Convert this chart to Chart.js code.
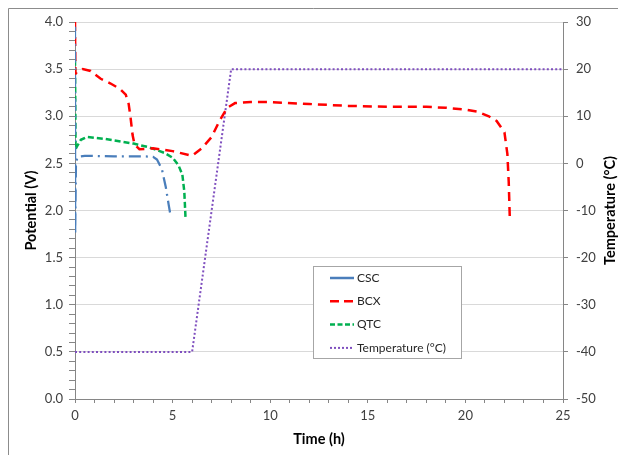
<!DOCTYPE html>
<html>
<head>
<meta charset="utf-8">
<script src="https://cdn.jsdelivr.net/npm/chart.js@4/dist/chart.umd.min.js"></script>
<style>
  html, body { margin: 0; padding: 0; background: #fff; }
  #wrap { width: 618px; height: 455px; position: relative; }
</style>
</head>
<body>
<div id="wrap"><canvas id="c" width="618" height="455"></canvas></div>
<script>
// ---- Data ----
const seriesNames = ["CSC", "BCX", "QTC", "Temperature (°C)"];

const cscTime    = [0, 0.01, 0.05, 0.15, 0.5, 2.0, 3.5, 4.0, 4.2, 4.45, 4.65, 4.8, 4.9];
const cscVoltage = [3.95, 1.75, 2.52, 2.57, 2.58, 2.575, 2.575, 2.57, 2.54, 2.44, 2.25, 2.06, 1.94];

const bcxTime    = [0, 0.02, 0.1, 0.4, 0.8, 1.3, 1.8, 2.3, 2.6, 2.75, 2.85, 2.95, 3.05, 3.3, 4.0, 5.0, 6.0, 6.5, 7.0, 7.4, 7.8, 8.2, 9.0, 10.0, 12.0, 14.0, 16.0, 18.0, 19.0, 20.0, 20.6, 21.2, 21.6, 22.0, 22.15, 22.22, 22.28];
const bcxVoltage = [4.0, 3.45, 3.47, 3.50, 3.48, 3.40, 3.35, 3.29, 3.23, 3.13, 2.98, 2.80, 2.70, 2.65, 2.66, 2.63, 2.58, 2.66, 2.78, 2.95, 3.09, 3.14, 3.15, 3.15, 3.13, 3.11, 3.10, 3.10, 3.09, 3.07, 3.05, 3.00, 2.95, 2.83, 2.60, 2.30, 1.88];

const qtcTime    = [0, 0.03, 0.1, 0.3, 0.6, 1.5, 3.0, 3.8, 4.6, 5.0, 5.3, 5.5, 5.6, 5.66];
const qtcVoltage = [3.6, 2.65, 2.68, 2.75, 2.78, 2.76, 2.71, 2.67, 2.61, 2.56, 2.48, 2.38, 2.20, 1.93];

const tempTime  = [0, 6.0, 8.0, 25];
const tempValue = [-40, -40, 20, 20];

const timeTicks = [0, 5, 10, 15, 20, 25];
const potentialTicks = [0.0, 0.5, 1.0, 1.5, 2.0, 2.5, 3.0, 3.5, 4.0];
const temperatureTicks = [-50, -40, -30, -20, -10, 0, 10, 20, 30];

// ---- helpers ----
function pts(xs, ys) { return xs.map((x, i) => ({ x: x, y: ys[i] })); }
const isMajor = (v, step) => Math.abs(v / step - Math.round(v / step)) < 1e-6;

const FONT = "Lato, 'Liberation Sans', sans-serif";
const AXIS_GRAY = '#868686';
const GRID_GRAY = '#D9D9D9';
const TICK_TEXT = '#404040';
const TITLE_SIZE = 14.5;

const legendStyles = [
  { color: '#4A7EBB', dash: [] },
  { color: '#FF0000', dash: [9, 5] },
  { color: '#00B050', dash: [5, 2.5] },
  { color: '#7F4FBF', dash: [2, 2] }
];

const frameAndLegend = {
  id: 'frameAndLegend',
  beforeDraw(chart) {
    const ctx = chart.ctx;
    ctx.save();
    ctx.fillStyle = '#fff';
    ctx.fillRect(0, 0, chart.width, chart.height);
    ctx.strokeStyle = '#8c8c8c';
    ctx.lineWidth = 1;
    ctx.beginPath();
    ctx.moveTo(8.5, chart.height);
    ctx.lineTo(8.5, 8.5);
    ctx.lineTo(chart.width, 8.5);
    ctx.stroke();
    ctx.restore();
  },
  afterDraw(chart) {
    const ctx = chart.ctx;
    ctx.save();
    // right axis title, reading bottom-to-top as in the reference
    const s2 = chart.scales.y2;
    ctx.translate(s2.right - 8, (s2.top + s2.bottom) / 2);
    ctx.rotate(-Math.PI / 2);
    ctx.font = "bold " + TITLE_SIZE + "px " + FONT;
    ctx.fillStyle = '#000';
    ctx.textAlign = 'center';
    ctx.textBaseline = 'middle';
    ctx.fillText('Temperature (°C)', 0, 0);
    ctx.restore();

    ctx.save();
    const bx = 313.5, by = 266.5, bw = 148, bh = 92;
    ctx.fillStyle = '#fff';
    ctx.fillRect(bx, by, bw, bh);
    ctx.strokeStyle = '#A6A6A6';
    ctx.lineWidth = 1;
    ctx.strokeRect(bx, by, bw, bh);
    ctx.font = "12px " + FONT;
    ctx.textBaseline = 'middle';
    ctx.textAlign = 'left';
    seriesNames.forEach((name, i) => {
      const y = 278 + i * 23.3;
      const st = legendStyles[i];
      ctx.strokeStyle = st.color;
      ctx.lineWidth = i === 3 ? 2 : 2.5;
      ctx.setLineDash(st.dash);
      ctx.beginPath();
      ctx.moveTo(330, y);
      ctx.lineTo(354, y);
      ctx.stroke();
      ctx.setLineDash([]);
      ctx.fillStyle = '#262626';
      ctx.fillText(name, 357, y);
    });
    ctx.restore();
  }
};

new Chart(document.getElementById('c'), {
  type: 'scatter',
  data: {
    datasets: [
      { label: seriesNames[0], data: pts(cscTime, cscVoltage), yAxisID: 'y',
        showLine: true, borderColor: '#4A7EBB', borderWidth: 2.25, borderDash: [12, 5, 2, 5],
        pointRadius: 0, tension: 0, fill: false },
      { label: seriesNames[1], data: pts(bcxTime, bcxVoltage), yAxisID: 'y',
        showLine: true, borderColor: '#FF0000', borderWidth: 2.5, borderDash: [9, 6],
        pointRadius: 0, tension: 0, fill: false },
      { label: seriesNames[2], data: pts(qtcTime, qtcVoltage), yAxisID: 'y',
        showLine: true, borderColor: '#00B050', borderWidth: 2.5, borderDash: [6, 3],
        pointRadius: 0, tension: 0, fill: false },
      { label: seriesNames[3], data: pts(tempTime, tempValue), yAxisID: 'y2',
        showLine: true, borderColor: '#7F4FBF', borderWidth: 2, borderDash: [2, 2.2],
        pointRadius: 0, tension: 0, fill: false }
    ]
  },
  options: {
    responsive: false,
    animation: false,
    devicePixelRatio: 1,
    layout: { padding: { left: 19, top: 22, right: 0, bottom: 0 } },
    plugins: { legend: { display: false }, tooltip: { enabled: false } },
    scales: {
      x: {
        type: 'linear', min: 0, max: 25,
        ticks: { stepSize: 1, autoSkip: false, maxRotation: 0, padding: 5,
          color: TICK_TEXT, font: { family: FONT, size: 13 },
          callback: (v) => timeTicks.includes(Math.round(v * 1000) / 1000) && isMajor(v, 5) ? String(Math.round(v)) : '' },
        grid: { drawOnChartArea: false, tickLength: 4, tickColor: AXIS_GRAY },
        border: { color: AXIS_GRAY, width: 1 },
        title: { display: true, text: 'Time (h)', color: '#000',
          font: { family: FONT, size: TITLE_SIZE, weight: 'bold' }, padding: { top: 0, bottom: 7 } },
        afterFit: (s) => { s.height = 56; }
      },
      y: {
        type: 'linear', position: 'left', min: 0, max: 4,
        ticks: { stepSize: 0.1, autoSkip: false, padding: 6,
          color: TICK_TEXT, font: { family: FONT, size: 13 },
          callback: (v) => isMajor(v, 0.5) ? v.toFixed(1) : '' },
        grid: {
          tickLength: 6,
          color: (c) => (c.tick && isMajor(c.tick.value, 0.5)) ? GRID_GRAY : 'rgba(0,0,0,0)',
          tickColor: AXIS_GRAY
        },
        border: { color: AXIS_GRAY, width: 1 },
        title: { display: true, text: 'Potential (V)', color: '#000',
          font: { family: FONT, size: TITLE_SIZE, weight: 'bold' }, padding: { top: 4, bottom: 0 } },
        afterFit: (s) => { s.width = 56; }
      },
      y2: {
        type: 'linear', position: 'right', min: -50, max: 30,
        ticks: { stepSize: 10, autoSkip: false, padding: 8,
          color: TICK_TEXT, font: { family: FONT, size: 13 },
          callback: (v) => temperatureTicks.includes(v) ? String(v) : '' },
        grid: { drawOnChartArea: false, tickLength: 5, tickColor: AXIS_GRAY },
        border: { color: AXIS_GRAY, width: 1 },
        title: { display: false },
        afterFit: (s) => { s.width = 55; }
      }
    }
  },
  plugins: [frameAndLegend]
});
</script>
</body>
</html>
